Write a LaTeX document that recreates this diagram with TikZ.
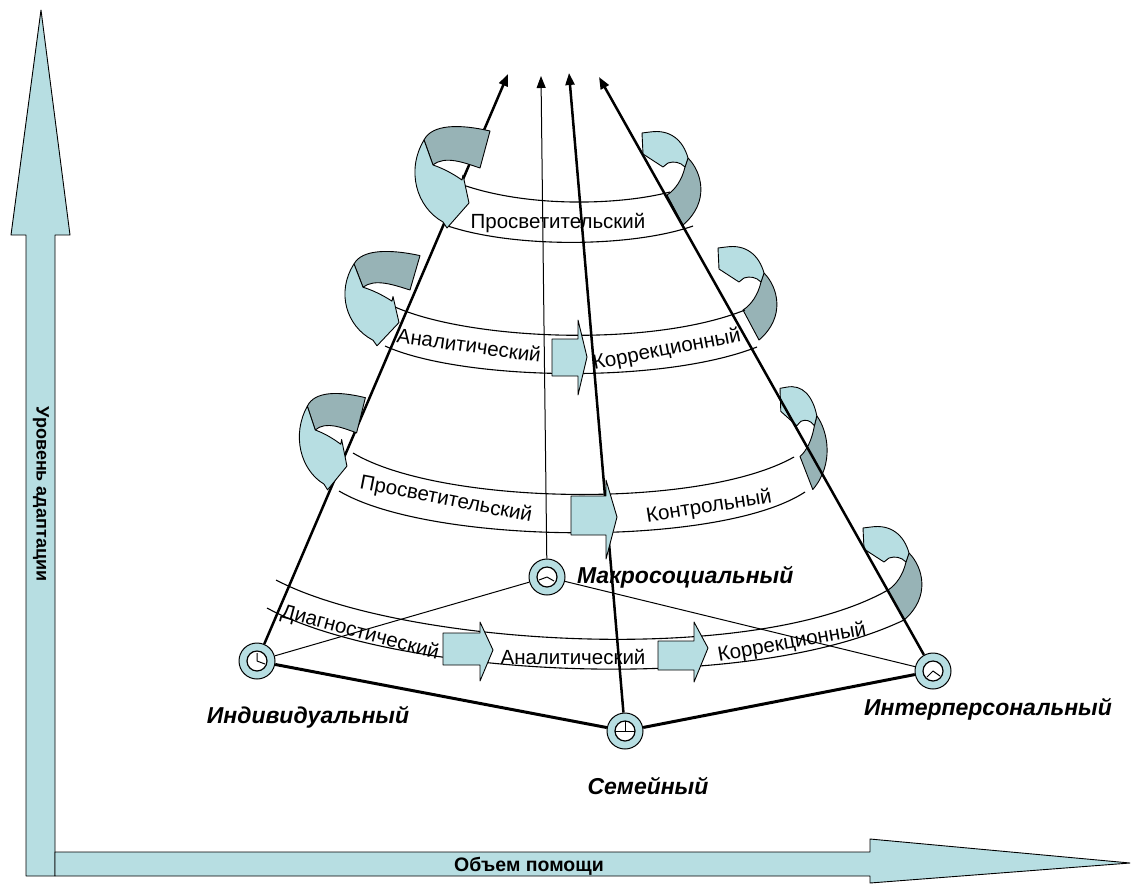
\documentclass[tikz,border=0pt]{standalone}
\usepackage{fontspec}
\setmainfont{Liberation Sans}
\usetikzlibrary{positioning}
\usetikzlibrary{arrows.meta}

\definecolor{lightteal}{RGB}{183,222,226}
\definecolor{darkteal}{RGB}{151,179,182}

\tikzset{
	basept/.style = {circle, draw, line width = 1pt, fill = lightteal, minimum size = 36pt, inner sep = 0pt},
	basename/.style = {font = \fontsize{23}{28}\selectfont\bfseries\itshape},
	axisname/.style = {font = \fontsize{18}{22}\selectfont\bfseries},
	stage/.style = {font = \fontsize{20.5}{24}\selectfont, inner sep = 1pt},
	band/.style = {black, line width = 1.1pt},
	outlined/.style = {draw, line width = 0.9pt, line join = round},
	rib/.style = {black, line width = 2.5pt},
	thinrib/.style = {black, line width = 1pt},
	tip/.style = {-{Triangle[length = 12pt, width = 9pt]}},
	leftcurl/.pic = {
		\draw[outlined, fill = darkteal] (14,15) .. controls (22,-1) and (50,-1) .. (80,6) -- (70,43) .. controls (55,38) and (35,30) .. (23,40) -- cycle;
		\draw[outlined, fill = lightteal] (14,15) .. controls (-4,45) and (6,82) .. (33,97) -- (37,103) -- (59,78) -- (53,50) -- (52,55) .. controls (42,48) and (32,43) .. (23,40) -- cycle;
	},
	rightcurl/.pic = {
		\draw[outlined, fill = darkteal] (46,28) .. controls (60,42) and (68,72) .. (41,95) -- (25,65) .. controls (33,60) and (40,50) .. (43,37) -- cycle;
		\draw[outlined, fill = lightteal] (0,3) -- (1,24) -- (21,37) -- (26,33) .. controls (32,31) and (38,32) .. (43,37) -- (46,28) .. controls (41,10) and (28,-1) .. (8,2) -- cycle;
	}
}

\begin{document}
\begin{tikzpicture}[x = 1pt, y = -1pt]
	\useasboundingbox (0,0) rectangle (1132,884);

	\draw[outlined, fill = lightteal] (26,876) -- (26,235) -- (11,235) -- (41,10) -- (70,235) -- (55,235) -- (55,876) -- cycle;
	\node[axisname, rotate = -90] (vlabel) at (41,494) {Уровень адаптации};
	\draw[outlined, fill = lightteal] (55,852) -- (870,852) -- (870,839) -- (1130,863) -- (870,883) -- (870,876) -- (55,876) -- cycle;
	\node[axisname, font = \fontsize{19.5}{23}\selectfont\bfseries] (hlabel) at (529,866) {Объем помощи};

	\node[basept] (ind) at (257,661) {};
	\node[basept] (mac) at (547,577) {};
	\node[basept] (fam) at (625,731) {};
	\node[basept] (inter) at (933,671) {};
	\coordinate (top1) at (508,74);
	\coordinate (top2) at (541,76);
	\coordinate (top3) at (569,73);
	\coordinate (top4) at (599,77);

	\pic at (642,130) {rightcurl};
	\pic at (718,245) {rightcurl};
	\pic[xscale = 0.8, yscale = 1.1] at (780,385) {rightcurl};
	\pic at (863,525) {rightcurl};

	\draw[rib, tip] (ind) -- (top1);
	\draw[thinrib, tip] (mac) -- (top2);
	\draw[rib, tip] (fam) -- (top3);
	\draw[rib, tip] (inter) -- (top4);
	\draw[black, line width = 3pt] (ind) -- (fam) -- (inter);
	\draw[thinrib] (ind) -- (mac) -- (inter);

	\draw[band] (463,185) .. controls (530,208) and (620,205) .. (670,192);
	\draw[band] (445,225) .. controls (510,248) and (630,248) .. (693,226);
	\draw[band] (395,307) .. controls (470,340) and (650,348) .. (745,310);
	\draw[band] (385,346) .. controls (460,380) and (660,385) .. (757,347);
	\draw[band] (353,453) .. controls (440,505) and (700,510) .. (794,457);
	\draw[band] (339,491) .. controls (430,545) and (720,548) .. (805,492);
	\draw[band] (276,580) .. controls (400,645) and (750,668) .. (888,590);
	\draw[band] (267,608) .. controls (390,675) and (740,698) .. (904,620);

	\pic at (410,125) {leftcurl};
	\pic[yscale = 0.93] at (340,250) {leftcurl};
	\pic[xscale = 0.88, yscale = 0.95] at (295,392) {leftcurl};

	\draw[outlined, fill = lightteal] (552,339) -- (578,339) -- (578,320) -- (587,357) -- (578,395) -- (578,376) -- (552,376) -- cycle;
	\draw[outlined, fill = lightteal] (571,496) -- (606,496) -- (606,480) -- (617,517) -- (606,559) -- (606,535) -- (571,535) -- cycle;
	\draw[outlined, fill = lightteal] (443,633) -- (480,633) -- (480,622) -- (493,650) -- (480,681) -- (480,665) -- (443,665) -- cycle;
	\draw[outlined, fill = lightteal] (658,641) -- (694,641) -- (694,622) -- (708,648) -- (694,682) -- (694,670) -- (658,670) -- cycle;

	\foreach \p in {ind, mac, fam, inter}
		\draw[line width = 1.2pt, fill = white] (\p.center) circle (10pt);
	\draw[line width = 1pt] (ind.center) -- ++(0,-8) (ind.center) -- ++(8,3);
	\draw[line width = 1pt] (mac.center) -- ++(-8,3) (mac.center) -- ++(7,4);
	\draw[line width = 1pt] (fam.center) -- ++(0,-10) (fam.center) ++(-10,0) -- ++(20,0);
	\draw[line width = 1pt] (inter.center) -- ++(-6,6) (inter.center) -- ++(7,5);

	\node[basename, right = 8pt of mac] (macname) {Макросоциальный};
	\node[basename] (indname) at (308,717) {Индивидуальный};
	\node[basename] (famname) at (648,786) {Семейный};
	\node[basename] (intername) at (988,709) {Интерперсональный};

	\node[stage] (s1) at (558,223) {Просветительский};
	\node[stage, rotate = -8] (s2a) at (469,345) {Аналитический};
	\node[stage, rotate = 11] (s2b) at (667,350) {Коррекционный};
	\node[stage, rotate = -11] (s3a) at (446,500) {Просветительский};
	\node[stage, rotate = 9] (s3b) at (709,507) {Контрольный};
	\node[stage, rotate = -15] (s4a) at (360,633) {Диагностический};
	\node[stage] (s4b) at (573,657) {Аналитический};
	\node[stage, rotate = 10] (s4c) at (792,643) {Коррекционный};
\end{tikzpicture}
\end{document}
